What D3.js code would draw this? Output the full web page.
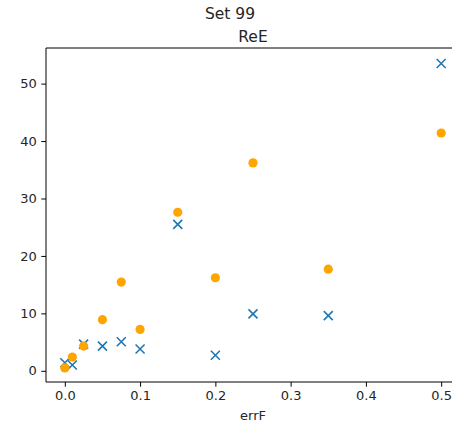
<!DOCTYPE html>
<html><head><meta charset="utf-8">
<script src="https://cdn.jsdelivr.net/npm/d3@7"></script>
<style>body{margin:0;background:#fff;overflow:hidden}svg{display:block}text{font-family:"DejaVu Sans",sans-serif;fill:#262626}</style>
</head><body><div id="chart"></div>
<script>
const xValues = [0, 0.01, 0.025, 0.05, 0.075, 0.1, 0.15, 0.2, 0.25, 0.35, 0.5];
const seriesCross = [1.4, 1.0, 4.65, 4.3, 5.05, 3.8, 25.5, 2.7, 9.9, 9.6, 53.5];
const seriesDot = [0.5, 2.4, 4.3, 8.9, 15.45, 7.2, 27.6, 16.2, 36.2, 17.7, 41.4];
const xTicks = [0, 0.1, 0.2, 0.3, 0.4, 0.5];
const yTicks = [0, 10, 20, 30, 40, 50];

const W = 452, H = 425;
const m = {left: 46, top: 48, right: 460, bottom: 382};
const svg = d3.select("#chart").append("svg").attr("width", W).attr("height", H);
const x = d3.scaleLinear().domain([-0.025, 0.525]).range([m.left, m.right]);
const y = d3.scaleLinear().domain([-1.95, 56.2]).range([m.bottom, m.top]);

svg.append("g").attr("transform", `translate(0,${m.bottom})`)
  .call(d3.axisBottom(x).tickValues(xTicks).tickFormat(d3.format(".1f")).tickSize(4.7).tickPadding(4.5))
  .call(g => g.select(".domain").remove())
  .call(g => g.selectAll("line").attr("stroke", "#000").attr("stroke-width", 1))
  .call(g => g.selectAll("text").attr("font-size", 13).style("font-family", "DejaVu Sans").style("fill", "#262626"));
svg.append("g").attr("transform", `translate(${m.left},0)`)
  .call(d3.axisLeft(y).tickValues(yTicks).tickFormat(d3.format("d")).tickSize(4.7).tickPadding(4.5))
  .call(g => g.select(".domain").remove())
  .call(g => g.selectAll("line").attr("stroke", "#000").attr("stroke-width", 1))
  .call(g => g.selectAll("text").attr("font-size", 13).style("font-family", "DejaVu Sans").style("fill", "#262626"));

const spines = svg.append("g").attr("stroke", "#000").attr("stroke-width", 1);
spines.append("line").attr("x1", m.left).attr("x2", m.right).attr("y1", m.top).attr("y2", m.top);
spines.append("line").attr("x1", m.left).attr("x2", m.right).attr("y1", m.bottom).attr("y2", m.bottom);
spines.append("line").attr("x1", m.left).attr("x2", m.left).attr("y1", m.top).attr("y2", m.bottom);

const data = xValues.map((v, i) => ({x: v, a: seriesCross[i], b: seriesDot[i]}));
const s = 4.5;
svg.append("g").selectAll("path").data(data).join("path")
  .attr("d", d => { const cx = x(d.x), cy = y(d.a);
    return `M${cx-s},${cy-s}L${cx+s},${cy+s}M${cx-s},${cy+s}L${cx+s},${cy-s}`; })
  .attr("stroke", "#1f77b4").attr("stroke-width", 1.6).attr("fill", "none");
svg.append("g").selectAll("circle").data(data).join("circle")
  .attr("cx", d => x(d.x)).attr("cy", d => y(d.b)).attr("r", 4.6).attr("fill", "#ffa500");

svg.append("text").attr("x", 230).attr("y", 19).attr("text-anchor", "middle").attr("font-size", 15.5).text("Set 99");
svg.append("text").attr("x", (m.left + m.right) / 2).attr("y", 42).attr("text-anchor", "middle").attr("font-size", 15.5).text("ReE");
svg.append("text").attr("x", (m.left + m.right) / 2).attr("y", 420).attr("text-anchor", "middle").attr("font-size", 13).text("errF");
</script></body></html>
